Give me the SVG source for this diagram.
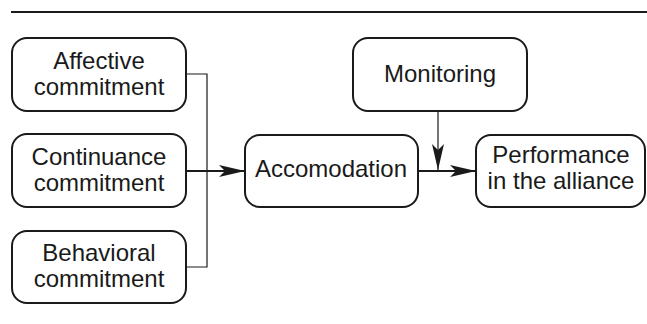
<svg xmlns="http://www.w3.org/2000/svg" width="647" height="324" viewBox="0 0 647 324">
<style>
.box{fill:#fff;stroke:#1a1a1a;stroke-width:2}
.t{font-family:"Liberation Sans",Arial,sans-serif;font-size:24px;fill:#1a1a1a;text-anchor:middle}
.thin{fill:none;stroke:#1a1a1a;stroke-width:1.2}
.thick{fill:none;stroke:#1a1a1a;stroke-width:2.2}
</style>
<defs>
<marker id="ah" markerWidth="28" markerHeight="12" refX="26" refY="6" orient="auto" markerUnits="userSpaceOnUse">
<path d="M0,0 L26,6 L0,12 L6,6 Z" fill="#1a1a1a"/>
</marker>
<marker id="ahv" markerWidth="12" markerHeight="28" refX="6" refY="26" orient="0" markerUnits="userSpaceOnUse">
<path d="M0,0 L6,26 L12,0 L6,6 Z" fill="#1a1a1a"/>
</marker>
</defs>
<line x1="11" y1="12" x2="647" y2="12" stroke="#1a1a1a" stroke-width="2.2"/>
<g id="connectors">
<polyline class="thin" points="186,74 207,74 207,267 186,267"/>
<line class="thick" x1="186" y1="171" x2="245" y2="171" marker-end="url(#ah)"/>
<line class="thick" x1="418" y1="171" x2="476" y2="171" marker-end="url(#ah)"/>
<line class="thin" x1="438" y1="111" x2="438" y2="170" marker-end="url(#ahv)"/>
</g>
<g id="affective">
<rect class="box" x="12" y="38" width="174" height="73" rx="15"/>
<text class="t" x="99" y="69">Affective</text>
<text class="t" x="99" y="95">commitment</text>
</g>
<g id="continuance">
<rect class="box" x="12" y="134" width="174" height="73" rx="15"/>
<text class="t" x="99" y="165">Continuance</text>
<text class="t" x="99" y="191">commitment</text>
</g>
<g id="behavioral">
<rect class="box" x="12" y="231" width="174" height="72" rx="15"/>
<text class="t" x="99" y="261">Behavioral</text>
<text class="t" x="99" y="287">commitment</text>
</g>
<g id="accomodation">
<rect class="box" x="245" y="135" width="173" height="72" rx="15"/>
<text class="t" x="331" y="177">Accomodation</text>
</g>
<g id="monitoring">
<rect class="box" x="353" y="38" width="174" height="73" rx="15"/>
<text class="t" x="440" y="82">Monitoring</text>
</g>
<g id="performance">
<rect class="box" x="476" y="135" width="169" height="72" rx="15"/>
<text class="t" x="561" y="163">Performance</text>
<text class="t" x="561" y="189">in the alliance</text>
</g>
</svg>
